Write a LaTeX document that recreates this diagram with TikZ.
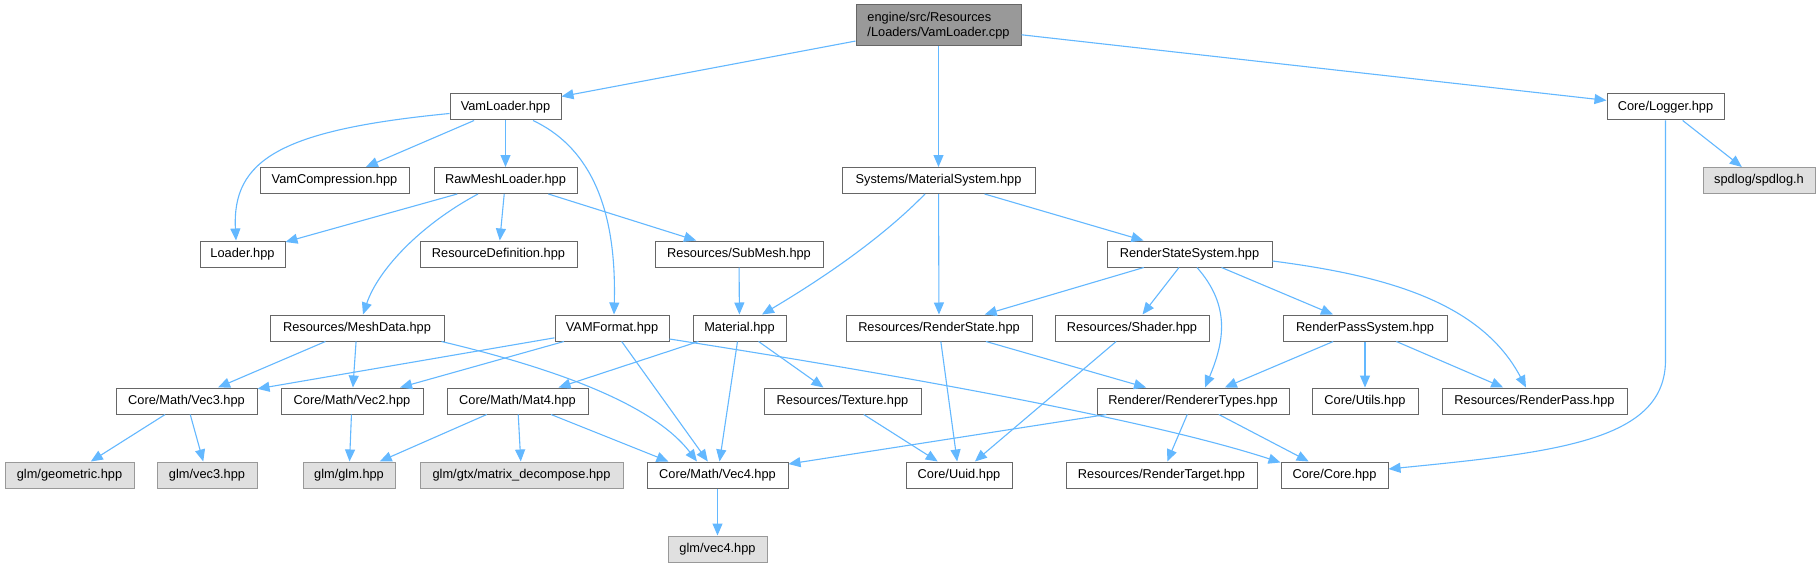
\documentclass[tikz,border=0pt]{standalone}
\usepackage{fontspec}
\setmainfont{Liberation Sans}
\usetikzlibrary{arrows.meta}
\definecolor{edgec}{HTML}{63B8FF}
\definecolor{bordc}{HTML}{666666}
\definecolor{extbord}{HTML}{999999}
\definecolor{extfill}{HTML}{E0E0E0}
\definecolor{topfill}{HTML}{999999}
\begin{document}
\begin{tikzpicture}[x=1pt,y=-1pt,
  box/.style={draw=bordc, fill=white, line width=1pt, inner sep=0pt, minimum height=26pt, font=\fontsize{12.8}{15}\selectfont},
  ext/.style={box, draw=extbord, fill=extfill},
  topbox/.style={box, fill=topfill, minimum height=41pt, align=left, font=\fontsize{12.8}{14.5}\selectfont},
  e/.style={draw=edgec, line width=1.1pt, -{Triangle[length=12pt,width=10pt]}}]
\useasboundingbox[fill=white] (0,0) rectangle (1820,567);

% nodes
\node[topbox, minimum width=165pt] (top) at (938.5,25.5) {engine/src/Resources\\/Loaders/VamLoader.cpp};
\node[box, minimum width=111pt] (vamloader) at (505.5,107) {VamLoader.hpp};
\node[box, minimum width=117pt] (logger) at (1665.5,107) {Core/Logger.hpp};

\node[box, minimum width=149pt] (vamcomp) at (334.5,180.5) {VamCompression.hpp};
\node[box, minimum width=143pt] (rawmesh) at (505.5,180.5) {RawMeshLoader.hpp};
\node[box, minimum width=193pt] (matsys) at (938.5,180.5) {Systems/MaterialSystem.hpp};
\node[ext, minimum width=112pt] (spdlog) at (1759,180.5) {spdlog/spdlog.h};

\node[box, minimum width=85pt] (loader) at (242.5,254) {Loader.hpp};
\node[box, minimum width=157pt] (resdef) at (498.5,254) {ResourceDefinition.hpp};
\node[box, minimum width=168pt] (submesh) at (739,254) {Resources/SubMesh.hpp};
\node[box, minimum width=165pt] (rss) at (1189.5,254) {RenderStateSystem.hpp};

\node[box, minimum width=174pt] (meshdata) at (357,328) {Resources/MeshData.hpp};
\node[box, minimum width=114pt] (vamformat) at (612,328) {VAMFormat.hpp};
\node[box, minimum width=93pt] (material) at (739.5,328) {Material.hpp};
\node[box, minimum width=186pt] (renderstate) at (939,328) {Resources/RenderState.hpp};
\node[box, minimum width=154pt] (shader) at (1132,328) {Resources/Shader.hpp};
\node[box, minimum width=164pt] (rps) at (1365,328) {RenderPassSystem.hpp};

\node[box, minimum width=141pt] (vec3) at (186.5,401) {Core/Math/Vec3.hpp};
\node[box, minimum width=142pt] (vec2) at (352,401) {Core/Math/Vec2.hpp};
\node[box, minimum width=141pt] (mat4) at (517.5,401) {Core/Math/Mat4.hpp};
\node[box, minimum width=157pt] (texture) at (842.5,401) {Resources/Texture.hpp};
\node[box, minimum width=192pt] (rtypes) at (1193,401) {Renderer/RendererTypes.hpp};
\node[box, minimum width=106pt] (utils) at (1365,401) {Core/Utils.hpp};
\node[box, minimum width=185pt] (renderpass) at (1534.5,401) {Resources/RenderPass.hpp};

\node[ext, minimum width=129pt] (geometric) at (69.5,475) {glm/geometric.hpp};
\node[ext, minimum width=100pt] (glmvec3) at (207,475) {glm/vec3.hpp};
\node[ext, minimum width=92pt] (glmglm) at (349,475) {glm/glm.hpp};
\node[ext, minimum width=203pt] (matdec) at (521.5,475) {glm/gtx/matrix\_decompose.hpp};
\node[box, minimum width=141pt] (vec4) at (717.5,475) {Core/Math/Vec4.hpp};
\node[box, minimum width=106pt] (uuid) at (959,475) {Core/Uuid.hpp};
\node[box, minimum width=191pt] (rtarget) at (1161.5,475) {Resources/RenderTarget.hpp};
\node[box, minimum width=107pt] (core) at (1334.5,475) {Core/Core.hpp};

\node[ext, minimum width=99pt] (glmvec4) at (717.5,549) {glm/vec4.hpp};

% edges
\draw[e] (top) -- (vamloader);
\draw[e] (top) -- (matsys);
\draw[e] (top) -- (logger);

\draw[e] ([yshift=-6.5pt]vamloader.west) .. controls (280,130) and (232,160) .. ([xshift=-6.5pt]loader.north);
\draw[e] (vamloader) -- (vamcomp);
\draw[e] (vamloader) -- (rawmesh);
\draw[e] ([xshift=27.5pt]vamloader.south) .. controls (585,145) and (617,200) .. ([xshift=2pt]vamformat.north);

\draw[e] (rawmesh) -- (loader);
\draw[e] (rawmesh) -- (resdef);
\draw[e] ([xshift=-27.5pt]rawmesh.south) .. controls (420,225) and (378,270) .. ([xshift=6pt]meshdata.north);
\draw[e] (rawmesh) -- (submesh);

\draw[e] ([xshift=-13.5pt]matsys.south) .. controls (880,240) and (820,280) .. ([xshift=22.5pt]material.north);
\draw[e] (matsys) -- (renderstate);
\draw[e] (matsys) -- (rss);

\draw[e] (submesh) -- (material);

\draw[e] (rss) -- (renderstate);
\draw[e] (rss) -- (shader);
\draw[e] ([xshift=7.5pt]rss.south) .. controls (1230,305) and (1225,340) .. ([xshift=12pt]rtypes.north);
\draw[e] (rss) -- (rps);
\draw[e] ([yshift=-7pt]rss.east) .. controls (1380,275) and (1480,300) .. ([xshift=-8.5pt]renderpass.north);

\draw[e] (material) -- (mat4);
\draw[e] (material) -- (vec4);
\draw[e] (material) -- (texture);

\draw[e] (meshdata) -- (vec3);
\draw[e] (meshdata) -- (vec2);
\draw[e] ([xshift=-3pt]meshdata.south east) .. controls (540,365) and (650,400) .. ([xshift=-20.5pt]vec4.north);

\draw[e] (vamformat) -- (vec3);
\draw[e] (vamformat) -- (vec2);
\draw[e] (vamformat) -- (vec4);
\draw[e] ([yshift=-11pt]vamformat.east) .. controls (900,375) and (1150,420) .. ([yshift=-1pt]core.north west);

\draw[e] (vec3) -- (geometric);
\draw[e] (vec3) -- (glmvec3);
\draw[e] (vec2) -- (glmglm);
\draw[e] (mat4) -- (glmglm);
\draw[e] (mat4) -- (matdec);
\draw[e] ([xshift=33.5pt]mat4.south) -- ([xshift=22pt]vec4.north west);

\draw[e] (texture) -- (uuid);
\draw[e] (renderstate) -- (uuid);
\draw[e] (renderstate) -- (rtypes);
\draw[e] (shader) -- (uuid);

\draw[e] (rtypes) -- (vec4);
\draw[e] (rtypes) -- (rtarget);
\draw[e] (rtypes) -- (core);

\draw[e] (rps) -- (rtypes);
\draw[e] (rps) -- (utils);
\draw[e] (rps) -- (renderpass);

\draw[e] (logger) -- (spdlog);
\draw[e] (logger.south) -- (1665.5,360) .. controls (1665.5,440) and (1560,452) .. ([yshift=6pt]core.east);

\draw[e] (vec4) -- (glmvec4);
\end{tikzpicture}
\end{document}
